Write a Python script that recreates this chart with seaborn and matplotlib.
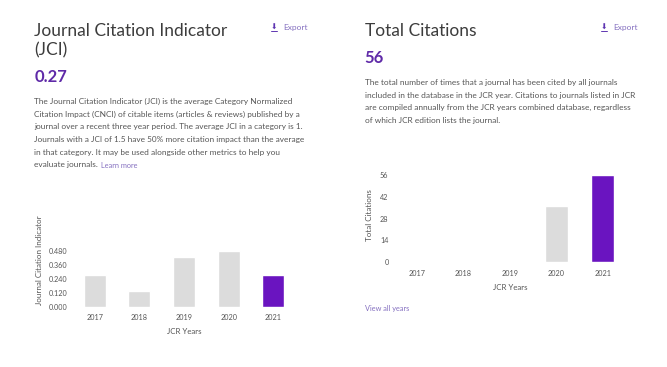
import matplotlib
matplotlib.use("Agg")
import matplotlib.pyplot as plt
from matplotlib.lines import Line2D
import seaborn as sns
import pandas as pd

years = ["2017", "2018", "2019", "2020", "2021"]
jci_values = [0.27, 0.135, 0.43, 0.48, 0.27]
jci_ticks = [0.0, 0.12, 0.24, 0.36, 0.48]
cit_values = [0, 0, 0, 36, 56]
cit_ticks = [0, 14, 28, 42, 56]
GREY = "#dcdcdc"
PURPLE = "#6a14c0"
palette = {"2017": GREY, "2018": GREY, "2019": GREY, "2020": GREY, "2021": PURPLE}

sns.set_theme(style="white")
plt.rcParams["font.family"] = ["Lato", "DejaVu Sans"]

W, H = 667, 367
fig = plt.figure(figsize=(W / 100, H / 100), dpi=100, facecolor="white")

def T(x, y, s, size, color="#555555", **kw):
    fig.text(x / W, 1 - y / H, s, fontsize=size, color=color, va="center", **kw)

ylabel_y = {"Journal Citation Indicator": 260, "Total Citations": 215}

def chart(box, values, ticks, fmt, ylabel, ylabel_x, xlabel_y):
    l, t, r, b = box
    ax = fig.add_axes([l / W, 1 - b / H, (r - l) / W, (b - t) / H])
    df = pd.DataFrame({"year": years, "value": values})
    sns.barplot(data=df, x="year", y="value", hue="year", palette=palette,
                width=0.49, saturation=1, legend=False, ax=ax)
    ax.set_ylim(0, ticks[-1])
    ax.set_xlim(-0.5, 4.5)
    ax.set_yticks(ticks, [fmt.format(v) for v in ticks])
    ax.tick_params(axis="both", length=0, labelsize=5.2, labelcolor="#555555")
    ax.tick_params(axis="x", pad=5.5)
    ax.tick_params(axis="y", pad=3.8)
    ax.set_xlabel("JCR Years", fontsize=5.7, color="#555555")
    ax.set_ylabel(ylabel, fontsize=5.8, color="#555555")
    ax.yaxis.set_label_coords((ylabel_x - l) / (r - l), (b - ylabel_y[ylabel]) / (b - t))
    ax.xaxis.set_label_coords(0.5, (b - xlabel_y) / (b - t))
    sns.despine(ax=ax, left=True, bottom=True)
    ax.patch.set_alpha(0)

chart((72.4, 250.7, 295.7, 306.7), jci_values, jci_ticks, "{:.3f}", "Journal Citation Indicator", 43, 328)
chart((393.8, 175, 625.9, 262.3), cit_values, cit_ticks, "{:d}", "Total Citations", 373, 284)

DARK = "#3c3c3c"
VIOLET = "#5e35b1"
T(34.5, 31, "Journal Citation Indicator", 12.5, DARK)
T(34.5, 50.5, "(JCI)", 12.5, DARK)
T(34.5, 77.5, "0.27", 12, "#5f2aa8", fontweight="bold")
T(364.5, 31, "Total Citations", 12.5, DARK)
T(364.5, 58, "56", 12, "#5f2aa8", fontweight="bold")

left_lines = [
    "The Journal Citation Indicator (JCI) is the average Category Normalized",
    "Citation Impact (CNCI) of citable items (articles & reviews) published by a",
    "journal over a recent three year period. The average JCI in a category is 1.",
    "Journals with a JCI of 1.5 have 50% more citation impact than the average",
    "in that category. It may be used alongside other metrics to help you",
    "evaluate journals.",
]
for i, s in enumerate(left_lines):
    T(34.5, 101.5 + i * 12.7, s, 5.95)
T(101, 165, "Learn more", 5.3, "#8570c0")

right_lines = [
    "The total number of times that a journal has been cited by all journals",
    "included in the database in the JCR year. Citations to journals listed in JCR",
    "are compiled annually from the JCR years combined database, regardless",
    "of which JCR edition lists the journal.",
]
for i, s in enumerate(right_lines):
    T(364.5, 82.5 + i * 12.7, s, 5.95)

for x in (283, 613):
    T(x, 27.5, "Export", 6, "#8570c0")
    fig.text((x - 9.5) / W, 1 - 27 / H, "\u2B07", fontsize=5.5, color=VIOLET,
             va="center", ha="center", family=["DejaVu Sans"])
    fig.add_artist(Line2D([(x - 12.5) / W, (x - 6.5) / W], [1 - 31 / H, 1 - 31 / H],
                          color=VIOLET, lw=0.7))

T(364.5, 308.5, "View all years", 5.3, "#8570c0")

fig.savefig("out.png", dpi=100, facecolor="white")
